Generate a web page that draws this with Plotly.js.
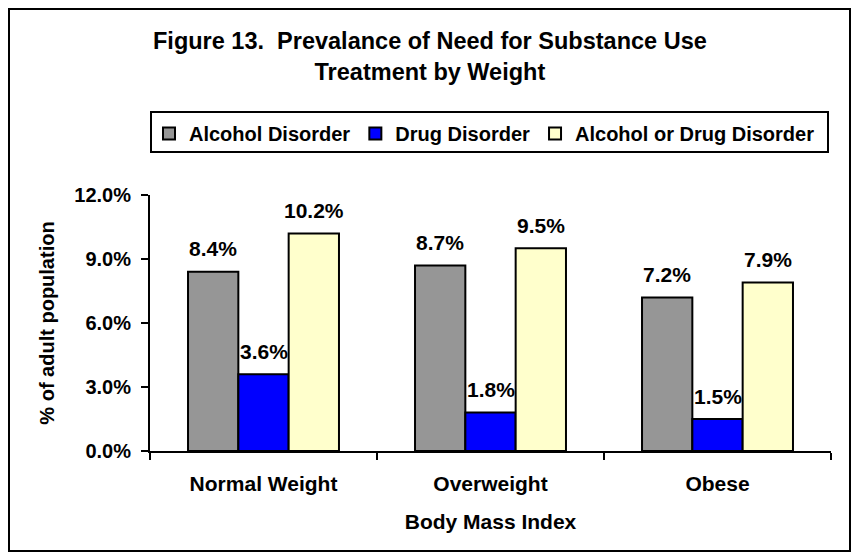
<!DOCTYPE html>
<html>
<head>
<meta charset="utf-8">
<script src="https://cdn.plot.ly/plotly-3.0.1.min.js"></script>
<style>
html,body{margin:0;padding:0;background:#fff;}
#chart{width:853px;height:560px;}
</style>
</head>
<body>
<div id="chart"></div>
<script>
const categories = ["Normal Weight", "Overweight", "Obese"];
const seriesNames = ["Alcohol Disorder", "Drug Disorder", "Alcohol or Drug Disorder"];
const alcoholDisorder = [8.4, 8.7, 7.2];
const drugDisorder = [3.6, 1.8, 1.5];
const alcoholOrDrugDisorder = [10.2, 9.5, 7.9];
const yTickValues = [0, 3, 6, 9, 12];
const titleText = "Figure 13.  Prevalance of Need for Substance Use<br>Treatment by Weight";
const xTitle = "Body Mass Index";
const yTitle = "% of adult population";

const FONT = "'Liberation Sans', Arial, sans-serif";
const colors = ["#969696", "#0000FF", "#FFFFCC"];
const seriesValues = [alcoholDisorder, drugDisorder, alcoholOrDrugDisorder];

const traces = seriesValues.map((vals, i) => ({
  type: "bar",
  name: seriesNames[i],
  x: categories,
  y: vals,
  marker: {color: colors[i], line: {color: "#000", width: 2}},
  hoverinfo: "skip"
}));

const barOffsets = [-50.5, 0, 50.5];
const annotations = [];
seriesValues.forEach((vals, i) => {
  vals.forEach((v, j) => {
    annotations.push({
      x: categories[j], y: v, xref: "x", yref: "y",
      text: v.toFixed(1) + "%",
      showarrow: false, xshift: barOffsets[i], yshift: 23,
      xanchor: "center", yanchor: "middle",
      font: {family: FONT, size: 21, color: "#000", weight: "bold"}
    });
  });
});

// plot area: x 150..831, y 195..451
const pw = 681, ph = 256;
const px = v => (v - 150) / pw;
const py = v => (451 - v) / ph;

const layout = {
  width: 853, height: 560,
  margin: {l: 150, r: 22, t: 195, b: 109},
  paper_bgcolor: "#fff", plot_bgcolor: "#fff",
  font: {family: FONT, size: 20, color: "#000", weight: "bold"},
  title: {
    text: titleText, xref: "container", yref: "container",
    x: 0.504, xanchor: "center", y: 0.9125, yanchor: "top",
    font: {family: FONT, size: 23.5, color: "#000", weight: "bold"}
  },
  barmode: "group", bargap: 0.335, bargroupgap: 0,
  showlegend: true,
  legend: {
    orientation: "h", x: px(149), xanchor: "left", y: py(114), yanchor: "top",
    bgcolor: "rgba(0,0,0,0)", borderwidth: 0,
    font: {family: FONT, size: 20, color: "#000", weight: "bold"},
    traceorder: "normal", itemclick: false, itemdoubleclick: false
  },
  xaxis: {
    type: "category",
    showline: true, linecolor: "#000", linewidth: 2,
    ticks: "outside", tickson: "boundaries", ticklen: 7, tickwidth: 2, tickcolor: "#000",
    showgrid: false, zeroline: false,
    tickfont: {family: FONT, size: 21, color: "#000", weight: "bold"},
    ticklabelstandoff: 13,
    title: {text: xTitle, standoff: 20, font: {family: FONT, size: 21, color: "#000", weight: "bold"}},
    fixedrange: true
  },
  yaxis: {
    range: [0, 12], tickvals: yTickValues,
    ticktext: yTickValues.map(v => v.toFixed(1) + "%"),
    showline: true, linecolor: "#000", linewidth: 2,
    ticks: "outside", ticklen: 7, tickwidth: 2, tickcolor: "#000",
    showgrid: false, zeroline: false,
    tickfont: {family: FONT, size: 20, color: "#000", weight: "bold"},
    ticklabelstandoff: 6,
    title: {text: yTitle, standoff: 14, font: {family: FONT, size: 20, color: "#000", weight: "bold"}},
    fixedrange: true
  },
  annotations: annotations,
  shapes: [
    {type: "rect", xref: "paper", yref: "paper", x0: px(9), x1: px(850), y0: py(551), y1: py(9),
     line: {color: "#000", width: 2}, fillcolor: "rgba(0,0,0,0)", layer: "below"},
    {type: "rect", xref: "paper", yref: "paper", x0: px(151), x1: px(828), y0: py(152), y1: py(112),
     line: {color: "#000", width: 2}, fillcolor: "rgba(0,0,0,0)", layer: "below"}
  ]
};

Plotly.newPlot("chart", traces, layout, {displayModeBar: false, staticPlot: true});
</script>
</body>
</html>
